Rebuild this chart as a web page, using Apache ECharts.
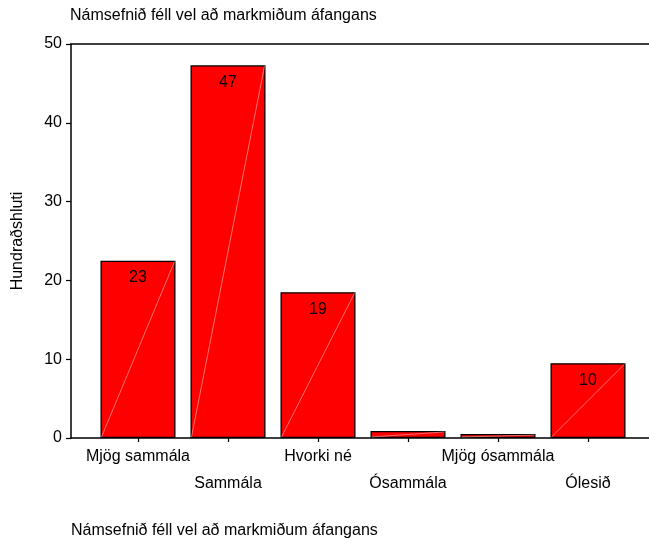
<!DOCTYPE html>
<html>
<head>
<meta charset="utf-8">
<script src="https://cdn.jsdelivr.net/npm/echarts@6/dist/echarts.min.js"></script>
<style>html,body{margin:0;padding:0;background:#fff}#c{width:649px;height:539px}</style>
</head>
<body>
<div id="c"></div>
<script>
const titleText = 'Námsefnið féll vel að markmiðum áfangans';
const yAxisName = 'Hundraðshluti';
const categories = ['Mjög sammála', 'Sammála', 'Hvorki né', 'Ósammála', 'Mjög ósammála', 'Ólesið'];
const values = [22.5, 47.3, 18.5, 0.9, 0.5, 9.5];
const yTicks = [0, 10, 20, 30, 40, 50];

const FONT = 'Liberation Sans, Arial, sans-serif';
const BAR_W = 75;
const positions = categories.map((c, i) => i);
const barData = values.map((v, i) => [i, v]);

const chart = echarts.init(document.getElementById('c'));
chart.setOption({
  animation: false,
  backgroundColor: '#fff',
  title: [
    { text: titleText, left: 70, top: 8, padding: 0, textStyle: { fontFamily: FONT, fontSize: 16, fontWeight: 'normal', color: '#000' } },
    { text: titleText, left: 71, top: 523, padding: 0, textStyle: { fontFamily: FONT, fontSize: 16, fontWeight: 'normal', color: '#000' } }
  ],
  grid: { left: 71, right: 0, top: 44, bottom: 101 },
  xAxis: [
    {
      type: 'value', position: 'bottom',
      min: -0.7444, max: 5.6778,
      splitLine: { show: false },
      axisLine: { show: true, onZero: false, lineStyle: { color: '#000', width: 1.5 } },
      axisTick: { show: true, customValues: positions, length: 4, lineStyle: { color: '#000', width: 1.2 } },
      axisLabel: {
        show: true, customValues: positions, margin: 5,
        fontFamily: FONT, fontSize: 16, color: '#000', lineHeight: 27,
        formatter: v => { const i = Math.round(v); return i % 2 === 1 ? '\n' + categories[i] : categories[i]; }
      }
    },
    {
      type: 'value', position: 'top',
      min: -0.7444, max: 5.6778,
      splitLine: { show: false },
      axisLine: { show: true, onZero: false, lineStyle: { color: '#000', width: 1.5 } },
      axisTick: { show: false }, axisLabel: { show: false }
    }
  ],
  yAxis: {
    type: 'value', min: 0, max: 50, interval: 10,
    name: yAxisName, nameLocation: 'middle', nameGap: 45,
    nameTextStyle: { fontFamily: FONT, fontSize: 16, color: '#000' },
    splitLine: { show: false },
    axisLine: { show: true, onZero: false, lineStyle: { color: '#000', width: 1.5 } },
    axisTick: { show: true, inside: false, length: 5, lineStyle: { color: '#000', width: 1.2 } },
    axisLabel: { fontFamily: FONT, fontSize: 16, color: '#000', margin: 9,
      formatter: v => yTicks.includes(v) ? String(v) : '' }
  },
  series: [
    {
      type: 'bar', xAxisIndex: 0, data: barData, barWidth: BAR_W,
      itemStyle: { color: '#ff0000', borderColor: '#000', borderWidth: 1.3 },
      label: {
        show: true, position: 'insideTop', distance: 9,
        fontFamily: FONT, fontSize: 16, color: '#000',
        formatter: p => p.value[1] >= 5 ? String(Math.round(p.value[1])) : ''
      },
      z: 2
    },
    {
      type: 'custom', xAxisIndex: 0, data: barData, z: 3, silent: true,
      renderItem: (params, api) => {
        const x = api.value(0), y = api.value(1);
        const p0 = api.coord([x, 0]);
        const p1 = api.coord([x, y]);
        const h = BAR_W / 2 - 1;
        return {
          type: 'line',
          shape: { x1: p0[0] - h, y1: p0[1] - 1, x2: p1[0] + h, y2: p1[1] + 1 },
          style: { stroke: 'rgba(255,255,255,0.55)', lineWidth: 0.8 }
        };
      }
    }
  ]
});
</script>
</body>
</html>
